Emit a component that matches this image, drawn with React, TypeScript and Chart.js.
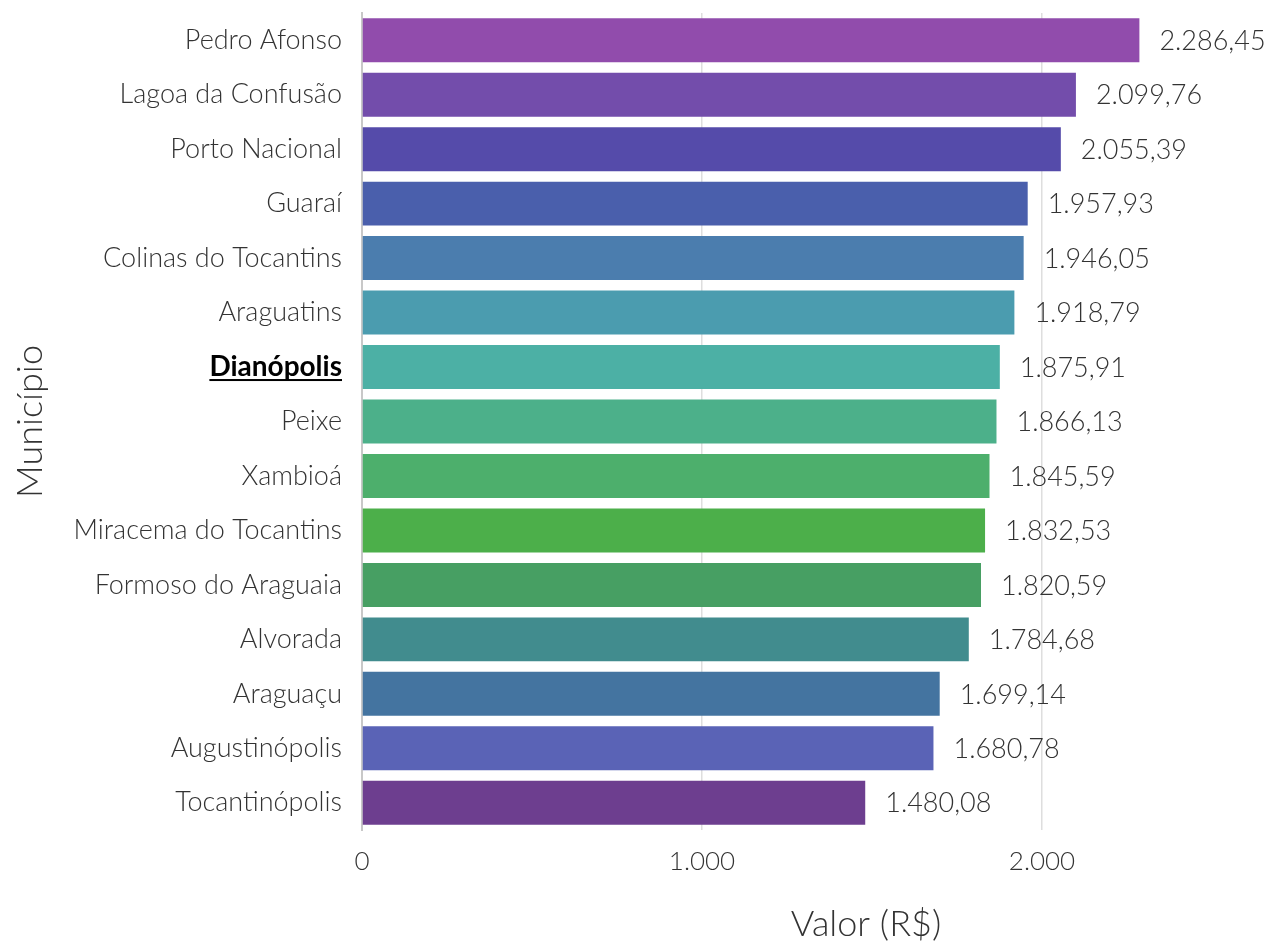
import React, { useEffect, useRef } from "react";
import { Chart, registerables } from "chart.js";

Chart.register(...registerables);

const municipios = [
  "Pedro Afonso",
  "Lagoa da Confusão",
  "Porto Nacional",
  "Guaraí",
  "Colinas do Tocantins",
  "Araguatins",
  "Dianópolis",
  "Peixe",
  "Xambioá",
  "Miracema do Tocantins",
  "Formoso do Araguaia",
  "Alvorada",
  "Araguaçu",
  "Augustinópolis",
  "Tocantinópolis",
];

const valores = [
  2286.45, 2099.76, 2055.39, 1957.93, 1946.05, 1918.79, 1875.91, 1866.13,
  1845.59, 1832.53, 1820.59, 1784.68, 1699.14, 1680.78, 1480.08,
];

const cores = [
  "#914CAC",
  "#734DAB",
  "#554BAA",
  "#4A5FAC",
  "#4B7DAE",
  "#4B9CAF",
  "#4CB0A5",
  "#4CB08A",
  "#4DAF6C",
  "#4CAF4A",
  "#479F63",
  "#418C8E",
  "#4474A0",
  "#5A63B6",
  "#6D3E8F",
];

const destaque = "Dianópolis";
const tituloX = "Valor (R$)";
const tituloY = "Município";
const xTicks = [0, 1000, 2000];

const FONT = "Lato, 'Open Sans', sans-serif";
const LABEL_SIZE = 27;
const BOLD_SIZE = 28;
const fmt2 = (v: number) =>
  v.toLocaleString("pt-BR", { minimumFractionDigits: 2, maximumFractionDigits: 2 });
const fmt0 = (v: number) => v.toLocaleString("pt-BR", { maximumFractionDigits: 0 });

export default function App() {
  const ref = useRef<HTMLCanvasElement | null>(null);

  useEffect(() => {
    if (!ref.current) return;
    const extras = {
      id: "extras",
      afterDatasetsDraw(chart: any) {
        const ctx = chart.ctx;
        const meta = chart.getDatasetMeta(0);
        ctx.save();
        ctx.font = `300 ${LABEL_SIZE}px ${FONT}`;
        ctx.fillStyle = "#333333";
        ctx.textAlign = "left";
        ctx.textBaseline = "middle";
        meta.data.forEach((bar: any, i: number) => {
          ctx.fillText(fmt2(valores[i]), bar.x + 20, bar.y + 1);
        });
        ctx.restore();
      },
      afterDraw(chart: any) {
        const ctx = chart.ctx;
        const area = chart.chartArea;
        const yScale = chart.scales.y;
        ctx.save();
        const idx = municipios.indexOf(destaque);
        if (idx >= 0) {
          ctx.font = `bold ${BOLD_SIZE}px ${FONT}`;
          const w = ctx.measureText(destaque).width;
          const y = yScale.getPixelForValue(idx);
          const right = area.left - 20;
          ctx.fillStyle = "#000000";
          ctx.fillRect(right - w, y + 12, w, 2);
        }
        ctx.fillStyle = "#333333";
        ctx.font = `300 36px ${FONT}`;
        ctx.textAlign = "center";
        ctx.textBaseline = "middle";
        ctx.fillText(tituloX, 866, 924);
        ctx.translate(30, (area.top + area.bottom) / 2);
        ctx.rotate(-Math.PI / 2);
        ctx.fillText(tituloY, 0, 0);
        ctx.restore();
      },
    };

    const chart = new Chart(ref.current, {
      type: "bar",
      data: {
        labels: municipios,
        datasets: [
          {
            data: valores,
            backgroundColor: cores,
            borderWidth: 0,
            categoryPercentage: 1,
            barPercentage: 0.807,
          },
        ],
      },
      options: {
        indexAxis: "y",
        responsive: false,
        animation: false,
        layout: { padding: { top: 13, right: 30, left: 0, bottom: 0 } },
        plugins: {
          legend: { display: false },
          tooltip: { enabled: false },
        },
        scales: {
          x: {
            min: 0,
            max: 2600,
            afterBuildTicks: (scale: any) => {
              scale.ticks = xTicks.map((v) => ({ value: v }));
            },
            afterFit: (scale: any) => {
              scale.height = 111;
              scale.paddingLeft = 0;
              scale.paddingRight = 0;
            },
            grid: {
              color: "#dedede",
              lineWidth: 1.5,
              drawTicks: false,
            },
            border: { display: false },
            ticks: {
              padding: 16,
              color: "#333333",
              font: { family: FONT, size: 26, weight: "300" as any },
              callback: (v: any) => fmt0(Number(v)),
            },
          },
          y: {
            afterFit: (scale: any) => {
              scale.width = 362;
              scale.paddingTop = 0;
              scale.paddingBottom = 0;
            },
            grid: { display: false, drawTicks: false },
            border: { display: true, color: "#c8c8c8", width: 2 },
            ticks: {
              padding: 20,
              color: (c: any) => (municipios[c.index] === destaque ? "#000000" : "#333333"),
              font: (c: any) =>
                municipios[c.index] === destaque
                  ? { family: FONT, size: BOLD_SIZE, weight: "bold" as any }
                  : { family: FONT, size: LABEL_SIZE, weight: "300" as any },
            },
          },
        },
      },
      plugins: [extras],
    } as any);

    return () => chart.destroy();
  }, []);

  return (
    <div style={{ position: "fixed", left: 0, top: 0, width: 1276, height: 941, background: "#ffffff" }}>
      <canvas ref={ref} width={1276} height={941} style={{ display: "block" }} />
    </div>
  );
}
